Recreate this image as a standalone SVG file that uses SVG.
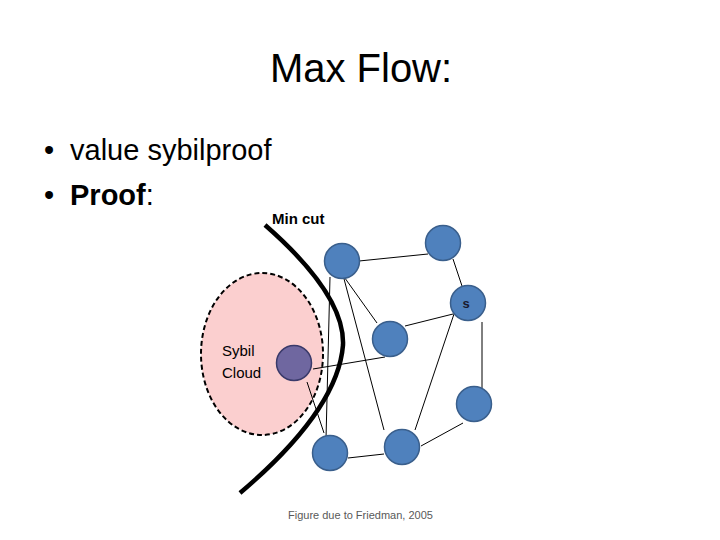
<svg xmlns="http://www.w3.org/2000/svg" width="720" height="540" viewBox="0 0 720 540">
<style>
.t{font-family:"Liberation Sans",Arial,sans-serif;fill:#000}
.n{fill:#4f81bd;stroke:#3a5f8c;stroke-width:1.5}
.e{stroke:#000;stroke-width:1;fill:none}
</style>
<rect width="720" height="540" fill="#fff"/>
<text class="t" x="361" y="82" font-size="40" text-anchor="middle">Max Flow:</text>
<text class="t" x="44" y="160" font-size="29">•</text>
<text class="t" x="70" y="160" font-size="29">value sybilproof</text>
<text class="t" x="44" y="205" font-size="29">•</text>
<text class="t" x="70" y="205" font-size="29"><tspan font-weight="bold">Proof</tspan>:</text>
<text class="t" x="272" y="224" font-size="15" font-weight="bold">Min cut</text>
<text class="t" x="288" y="519" font-size="11" style="fill:#595959">Figure due to Friedman, 2005</text>
<g id="sybil-cloud">
<ellipse cx="262" cy="354" rx="61" ry="81" fill="#fbcfcf" stroke="#000" stroke-width="2" stroke-dasharray="5,3"/>
<text class="t" x="222" y="356" font-size="15">Sybil</text>
<text class="t" x="222" y="378" font-size="15">Cloud</text>
</g>
<g id="connectors">
<line class="e" x1="359" y1="261" x2="428" y2="254"/>
<line class="e" x1="453" y1="259" x2="462" y2="286"/>
<line class="e" x1="342" y1="274" x2="377" y2="323"/>
<line class="e" x1="343" y1="275" x2="384" y2="430"/>
<line class="e" x1="330" y1="277" x2="326" y2="439"/>
<line class="e" x1="405" y1="326" x2="453" y2="314"/>
<line class="e" x1="455" y1="311" x2="415" y2="430"/>
<line class="e" x1="482" y1="322" x2="482" y2="388"/>
<line class="e" x1="463" y1="423" x2="421" y2="446"/>
<line class="e" x1="348" y1="458" x2="384" y2="454"/>
<line class="e" x1="313" y1="369" x2="385" y2="357"/>
<line class="e" x1="307" y1="382" x2="324" y2="433"/>
</g>
<g id="min-cut">
<path d="M265,225 Q345,295 343,345 Q338,410 240,493" fill="none" stroke="#000" stroke-width="4.5"/>
</g>
<g id="node-a"><circle class="n" cx="342" cy="261" r="17.5"/></g>
<g id="node-b"><circle class="n" cx="443" cy="243" r="17.5"/></g>
<g id="node-s"><circle class="n" cx="468" cy="303" r="17.5"/><text class="t" x="466" y="308" font-size="13" font-weight="bold" text-anchor="middle" style="fill:#1a1a2e">s</text></g>
<g id="node-c"><circle class="n" cx="390" cy="339" r="17.5"/></g>
<g id="node-sybil"><circle cx="294" cy="363" r="17.5" fill="#6f67a0" stroke="#3a3a6a" stroke-width="1.5"/></g>
<g id="node-e"><circle class="n" cx="474" cy="404" r="17.5"/></g>
<g id="node-f"><circle class="n" cx="330" cy="453" r="17.5"/></g>
<g id="node-g"><circle class="n" cx="402" cy="447" r="17.5"/></g>
</svg>
